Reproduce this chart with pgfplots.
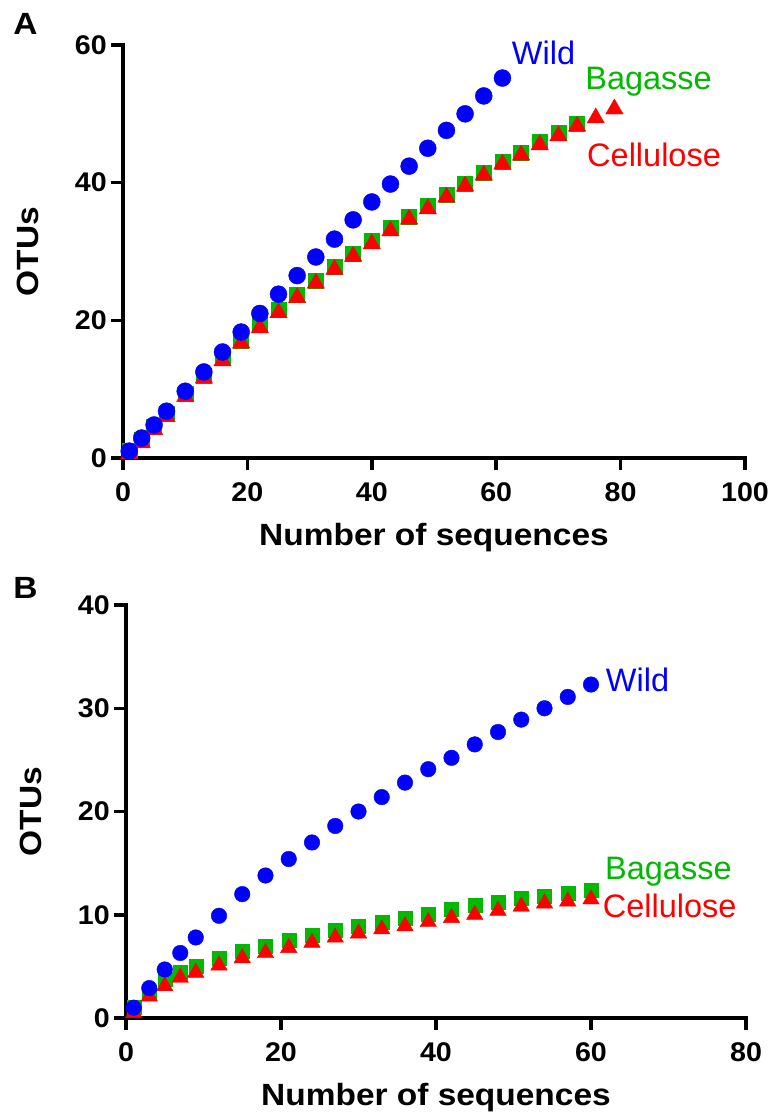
\documentclass[border=0pt]{standalone}
\usepackage{fontspec}
\setmainfont{Liberation Sans}
\newfontfamily\widefont[FakeStretch=1.06]{Liberation Sans}
\newfontfamily\titlewide[FakeStretch=1.09]{Liberation Sans}
\usepackage{pgfplots}
\pgfplotsset{compat=1.18}

\definecolor{wildblue}{RGB}{0,0,255}
\definecolor{baggreen}{RGB}{0,185,0}
\definecolor{celred}{RGB}{255,0,0}

\newcommand{\tickfont}{\widefont\bfseries\fontsize{27}{28}\selectfont}
\newcommand{\titlefont}{\titlewide\bfseries\fontsize{30.7}{32}\selectfont}
\newcommand{\serfont}{\fontsize{32.5}{34}\selectfont}

\pgfplotsset{
  otus/.style={
    scale only axis,
    clip=false,
    axis x line*=bottom,
    axis y line*=left,
    axis line style={line width=4.5pt, line cap=rect},
    tick align=outside,
    major tick length=12pt,
    every tick/.style={black, line width=3.5pt},
    /pgf/number format/assume math mode=true,
    ticklabel style={font=\tickfont},
    xticklabel style={inner sep=0pt, yshift=-12pt},
    yticklabel style={inner sep=0pt, xshift=-4pt},
    xlabel style={font=\titlefont, at={(axis description cs:0.5,0)}, anchor=base, yshift=-87pt, inner sep=0pt},
    ylabel style={font=\titlefont, at={(axis description cs:0,0.5)}, anchor=center, yshift=95pt, inner sep=0pt},
    xlabel={Number of sequences},
    ylabel={OTUs},
  },
  wild/.style={only marks, mark=*, color=wildblue, mark options={line width=0.4pt}},
  bag/.style={only marks, mark=square*, color=baggreen, mark options={line width=0.4pt}},
  cel/.style={only marks, mark=triangle*, color=celred, mark options={line width=0.4pt}},
}

\begin{document}
\begin{tikzpicture}
\useasboundingbox (0pt,0pt) rectangle (774pt,-1115pt);

\node[font=\titlefont, anchor=base, inner sep=0pt] at (25.5pt,-35pt) {A};
\node[font=\titlefont, anchor=base, inner sep=0pt] at (25.5pt,-598pt) {B};

% panel A
\begin{axis}[otus,
  at={(123pt,-458pt)}, anchor=south west,
  width=622pt, height=413pt,
  xmin=0, xmax=100, ymin=0, ymax=60,
  xtick={0,20,40,60,80,100}, ytick={0,20,40,60},
]
\addplot[bag, mark size=7.5pt] coordinates {
(1,1.0) (3,2.7) (5,4.5) (7,6.4) (10,9.3) (13,12.0) (16,14.5) (19,17.1)
(22,19.3) (25,21.5) (28,23.7) (31,25.8) (34,27.8) (37,29.7) (40,31.5)
(43,33.4) (46,35.1) (49,36.6) (52,38.3) (55,39.9) (58,41.5) (61,43.1)
(64,44.4) (67,45.9) (70,47.2) (73,48.5)
};
\addplot[cel, mark size=10pt] coordinates {
(1,0.6) (3,2.2) (5,4.1) (7,6.0) (10,8.9) (13,11.6) (16,14.1) (19,16.7)
(22,18.9) (25,21.1) (28,23.3) (31,25.4) (34,27.4) (37,29.3) (40,31.1)
(43,33.0) (46,34.7) (49,36.2) (52,37.9) (55,39.5) (58,41.1) (61,42.7)
(64,44.0) (67,45.5) (70,46.8) (73,48.2) (76,49.4) (79,50.7)
};
\addplot[wild, mark size=8.5pt] coordinates {
(1,1.0) (3,2.9) (5,4.8) (7,6.8) (10,9.7) (13,12.5) (16,15.4) (19,18.3)
(22,21.0) (25,23.8) (28,26.5) (31,29.2) (34,31.8) (37,34.6) (40,37.2)
(43,39.8) (46,42.4) (49,45.0) (52,47.6) (55,50.0) (58,52.6) (61,55.2)
};
\node[font=\serfont, text=wildblue, anchor=base west, inner sep=0pt] at (axis cs:62.5,57.1) {Wild};
\node[font=\serfont, text=baggreen, anchor=base west, inner sep=0pt] at (axis cs:74.3,53.5) {Bagasse};
\node[font=\serfont, text=celred, anchor=base west, inner sep=0pt] at (axis cs:74.6,42.3) {Cellulose};
\end{axis}

% panel B
\begin{axis}[otus,
  at={(126pt,-1018pt)}, anchor=south west,
  width=620pt, height=413pt,
  xmin=0, xmax=80, ymin=0, ymax=40,
  xtick={0,20,40,60,80}, ytick={0,10,20,30,40},
]
\addplot[bag, mark size=7pt] coordinates {
(1,1.0) (3,2.5) (5,3.8) (7,4.4) (9,5.0) (12,5.8) (15,6.5) (18,7.0)
(21,7.5) (24,8.0) (27,8.5) (30,8.9) (33,9.3) (36,9.7) (39,10.1)
(42,10.5) (45,10.9) (48,11.2) (51,11.6) (54,11.8) (57,12.1) (60,12.4)
};
\addplot[cel, mark size=9.5pt] coordinates {
(1,0.5) (3,2.1) (5,3.1) (7,3.9) (9,4.4) (12,5.1) (15,5.8) (18,6.3)
(21,6.8) (24,7.3) (27,7.8) (30,8.2) (33,8.6) (36,8.9) (39,9.3)
(42,9.7) (45,10.0) (48,10.4) (51,10.8) (54,11.1) (57,11.3) (60,11.5)
};
\addplot[wild, mark size=7.8pt] coordinates {
(1,1.0) (3,2.9) (5,4.7) (7,6.3) (9,7.8) (12,9.9) (15,12.0) (18,13.8)
(21,15.4) (24,17.0) (27,18.6) (30,20.0) (33,21.4) (36,22.8) (39,24.1)
(42,25.2) (45,26.5) (48,27.7) (51,28.9) (54,30.0) (57,31.1) (60,32.3)
};
\node[font=\serfont, text=wildblue, anchor=base west, inner sep=0pt] at (axis cs:61.9,31.6) {Wild};
\node[font=\serfont, text=baggreen, anchor=base west, inner sep=0pt] at (axis cs:61.8,13.4) {Bagasse};
\node[font=\serfont, text=celred, anchor=base west, inner sep=0pt] at (axis cs:61.5,9.7) {Cellulose};
\end{axis}
\end{tikzpicture}
\end{document}
